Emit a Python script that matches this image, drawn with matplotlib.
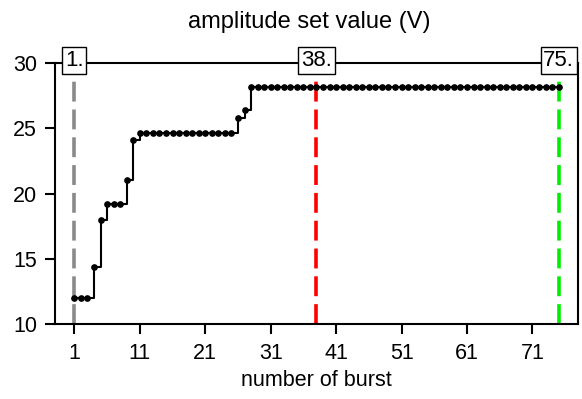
import matplotlib
matplotlib.use("Agg")
from matplotlib import pyplot as plt

plt.rcParams['font.family'] = ['Liberation Sans', 'DejaVu Sans']

# data
burst = list(range(1, 76))
amplitude = [12.0, 12.0, 12.0, 14.4, 18.0, 19.2, 19.2, 19.2, 21.0, 24.1,
             24.6, 24.6, 24.6, 24.6, 24.6, 24.6, 24.6, 24.6, 24.6, 24.6,
             24.6, 24.6, 24.6, 24.6, 24.6, 25.8, 26.4, 28.2, 28.2, 28.2,
             28.2, 28.2, 28.2, 28.2, 28.2, 28.2, 28.2, 28.2, 28.2, 28.2,
             28.2, 28.2, 28.2, 28.2, 28.2, 28.2, 28.2, 28.2, 28.2, 28.2,
             28.2, 28.2, 28.2, 28.2, 28.2, 28.2, 28.2, 28.2, 28.2, 28.2,
             28.2, 28.2, 28.2, 28.2, 28.2, 28.2, 28.2, 28.2, 28.2, 28.2,
             28.2, 28.2, 28.2, 28.2, 28.2]

marked_bursts = [1, 38, 75]
marked_labels = ['1.', '38.', '75.']
marked_colors = ['#8a8a8a', '#ff0000', '#00ee00']

xticks = [1, 11, 21, 31, 41, 51, 61, 71]
yticks = [10, 15, 20, 25, 30]

fig = plt.figure(figsize=(5.82, 3.99), dpi=100)
ax = fig.add_axes([0.0945, 0.188, 0.8986, 0.654])

# vertical markers
for xb, col in zip(marked_bursts, marked_colors):
    ax.axvline(xb, color=col, lw=2.6, dashes=(5.5, 2.2), zorder=1)

ax.plot(burst, amplitude, drawstyle='steps-post', color='k', lw=1.5, zorder=2)
ax.plot(burst, amplitude, 'o', color='k', ms=3.8, zorder=3)

# labels at the top line
for xb, lab in zip(marked_bursts, marked_labels):
    ax.text(xb, 30.2, lab, ha='center', va='center', fontsize=16, zorder=5,
            clip_on=False,
            bbox=dict(boxstyle='square,pad=0.12', fc='white', ec='k', lw=1))

ax.set_xlim(-1.96, 77.96)
ax.set_ylim(10, 30)
ax.set_xticks(xticks)
ax.set_yticks(yticks)
ax.tick_params(axis='both', length=7, width=1.5, labelsize=15.5, direction='out')
ax.tick_params(axis='x', pad=7)
ax.tick_params(axis='y', pad=6)
for s in ax.spines.values():
    s.set_linewidth(1.5)

ax.set_xlabel('number of burst', fontsize=15.5, labelpad=4)
fig.text(0.532, 0.945, 'amplitude set value (V)', ha='center', va='center', fontsize=17)

fig.savefig('out.png', dpi=100)
